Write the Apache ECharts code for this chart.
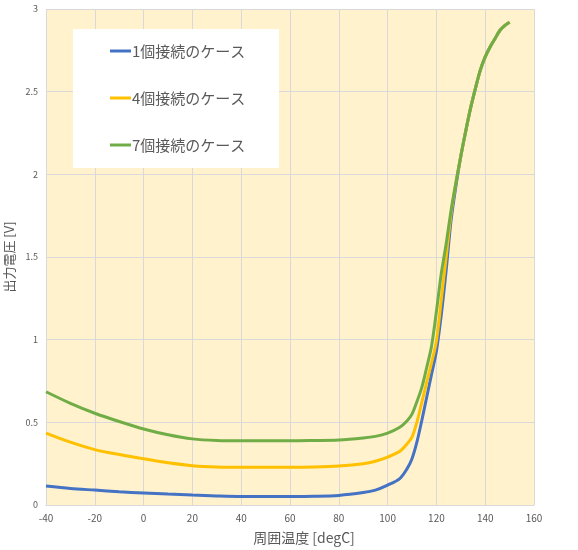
<!DOCTYPE html>
<html>
<head>
<meta charset="utf-8">
<script src="https://cdn.jsdelivr.net/npm/echarts@6/dist/echarts.min.js"></script>
<style>
  html, body { margin: 0; padding: 0; background: #fff; }
  #container { width: 578px; height: 550px; }
</style>
</head>
<body>
<div id="container"></div>
<script>
// 周囲温度 [degC]
var temps = [-40, -30, -20, -10, 0, 10, 20, 30, 40, 50, 60, 70, 80, 90, 95, 100, 105, 108, 110, 112, 114, 116, 118, 120, 122, 124, 126, 128, 130, 132, 134, 136, 138, 140, 142, 144, 146, 148, 150];
// 出力電圧 [V]
var case1 = [0.115, 0.10, 0.09, 0.08, 0.073, 0.066, 0.06, 0.055, 0.052, 0.052, 0.052, 0.053, 0.058, 0.075, 0.09, 0.12, 0.16, 0.22, 0.28, 0.38, 0.51, 0.65, 0.79, 0.93, 1.15, 1.42, 1.72, 1.93, 2.11, 2.26, 2.40, 2.52, 2.63, 2.71, 2.77, 2.82, 2.87, 2.90, 2.92];
var case4 = [0.435, 0.38, 0.335, 0.305, 0.28, 0.255, 0.238, 0.23, 0.228, 0.228, 0.228, 0.23, 0.236, 0.25, 0.265, 0.29, 0.325, 0.37, 0.41, 0.50, 0.62, 0.74, 0.86, 0.99, 1.24, 1.50, 1.76, 1.95, 2.11, 2.26, 2.40, 2.52, 2.63, 2.71, 2.77, 2.82, 2.87, 2.90, 2.92];
var case7 = [0.685, 0.615, 0.555, 0.505, 0.46, 0.425, 0.40, 0.39, 0.388, 0.388, 0.388, 0.39, 0.393, 0.405, 0.415, 0.435, 0.47, 0.51, 0.55, 0.625, 0.71, 0.83, 0.96, 1.17, 1.40, 1.58, 1.78, 1.95, 2.11, 2.26, 2.40, 2.52, 2.63, 2.71, 2.77, 2.82, 2.87, 2.90, 2.92];
var seriesNames = ['1個接続のケース', '4個接続のケース', '7個接続のケース'];
var colors = ['#4472C4', '#FFC000', '#70AD47'];

var font = '"Noto Sans CJK JP", "Noto Sans", sans-serif';

var pairs = function (vals) {
    return temps.map(function (t, i) { return [t, vals[i]]; });
};

var makeSeries = function (name, vals, color) {
    return {
        name: name,
        type: 'line',
        data: pairs(vals),
        smooth: 0.3,
        symbol: 'none',
        lineStyle: { width: 3, color: color },
        itemStyle: { color: color }
    };
};

var myChart = echarts.init(document.getElementById('container'));
var option = {
    animation: false,
    textStyle: { fontFamily: font },
    grid: {
        left: 46, right: 44, top: 9, bottom: 45,
        outerBoundsMode: 'none',
        containLabel: false,
        show: true,
        backgroundColor: '#FFF2CC',
        borderWidth: 0
    },
    graphic: [{
        type: 'rect',
        z: 5,
        shape: { x: 73, y: 29, width: 206, height: 139 },
        style: { fill: '#ffffff' }
    }],
    legend: {
        z: 10,
        orient: 'vertical',
        left: 105,
        top: 38,
        itemGap: 31,
        itemWidth: 21,
        itemHeight: 3,
        icon: 'rect',
        data: seriesNames,
        textStyle: { fontSize: 15, lineHeight: 16, color: '#595959', fontFamily: font, padding: [0, 0, 0, -4] }
    },
    xAxis: {
        type: 'value',
        min: -40, max: 160, interval: 20,
        name: '周囲温度 [degC]',
        nameLocation: 'middle',
        nameGap: 26,
        nameMoveOverlap: false,
        nameTextStyle: { fontSize: 14, color: '#595959', padding: [0, 0, 0, 28] },
        axisLine: { show: true, lineStyle: { color: '#D9D9D9', width: 1 } },
        axisTick: { show: false },
        axisLabel: { fontSize: 10, color: '#595959', margin: 8 },
        splitLine: { show: true, lineStyle: { color: '#D9D9D9', width: 1 } }
    },
    yAxis: {
        type: 'value',
        min: 0, max: 3, interval: 0.5,
        name: '出力電圧 [V]',
        nameLocation: 'middle',
        nameGap: 30,
        nameMoveOverlap: false,
        nameTextStyle: { fontSize: 13, color: '#595959' },
        axisLine: { show: false },
        axisTick: { show: false },
        axisLabel: { fontSize: 9, color: '#595959', margin: 8 },
        splitLine: { show: true, lineStyle: { color: '#D9D9D9', width: 1 } }
    },
    series: [
        makeSeries(seriesNames[0], case1, colors[0]),
        makeSeries(seriesNames[1], case4, colors[1]),
        makeSeries(seriesNames[2], case7, colors[2])
    ]
};
myChart.setOption(option);
</script>
</body>
</html>
